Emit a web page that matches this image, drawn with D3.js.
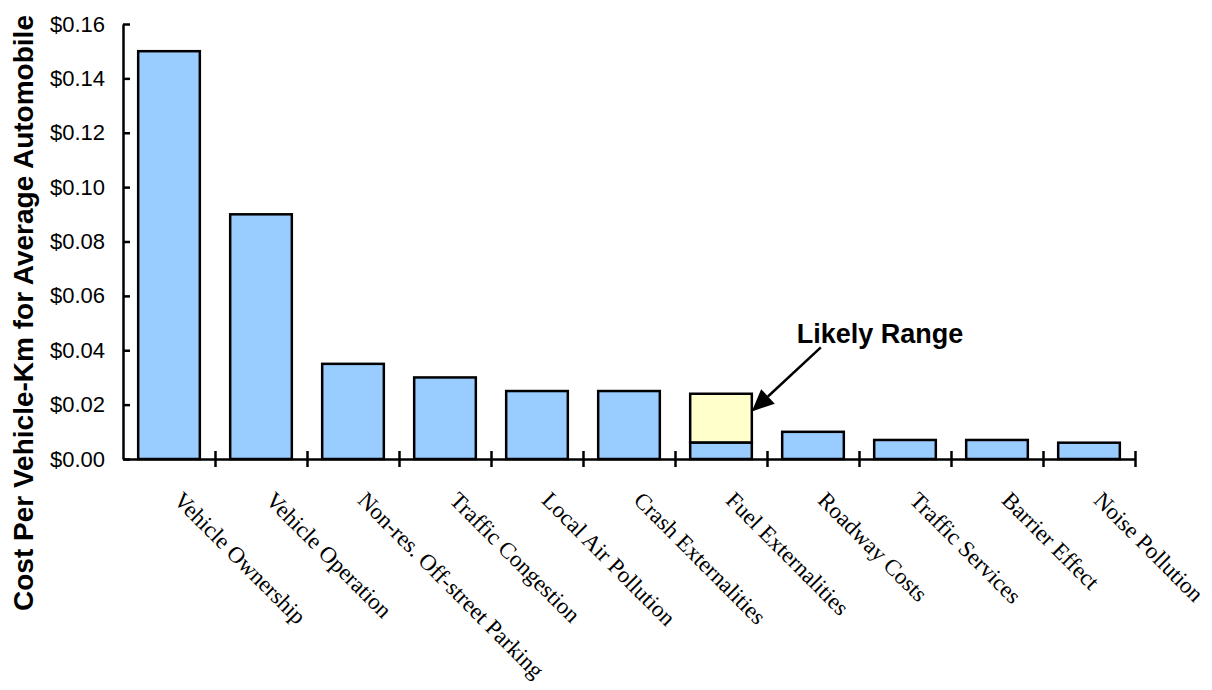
<!DOCTYPE html>
<html lang="en">
<head>
    <meta charset="UTF-8">
    <title>Cost Per Vehicle-Km for Average Automobile</title>
    <script src="https://d3js.org/d3.v7.min.js"></script>
    <style>
        body { margin: 0; background: #fff; }
        svg { display: block; }
    </style>
</head>
<body>
    <div id="chart"></div>

    <script>
        // data
        const categories = [
            "Vehicle Ownership", "Vehicle Operation", "Non-res. Off-street Parking",
            "Traffic Congestion", "Local Air Pollution", "Crash Externalities",
            "Fuel Externalities", "Roadway Costs", "Traffic Services",
            "Barrier Effect", "Noise Pollution"
        ];
        const costs = [0.15, 0.09, 0.035, 0.03, 0.025, 0.025, 0.006, 0.01, 0.007, 0.007, 0.006];
        // upper end of the "likely range" (only fuel externalities has one)
        const rangeTops = [null, null, null, null, null, null, 0.024, null, null, null, null];
        const yTicks = [0, 0.02, 0.04, 0.06, 0.08, 0.10, 0.12, 0.14, 0.16];
        const yTitle = "Cost Per Vehicle-Km for Average Automobile";
        const noteText = "Likely Range";

        const W = 1212, H = 690;
        const plot = { left: 123, right: 1135, top: 24, bottom: 459 };

        const svg = d3.select("#chart")
            .append("svg")
            .attr("width", W)
            .attr("height", H);

        const x = d3.scaleBand()
            .domain(categories)
            .range([plot.left, plot.right])
            .paddingInner(0.33)
            .paddingOuter(0.165);

        const y = d3.scaleLinear()
            .domain([0, 0.16])
            .range([plot.bottom, plot.top]);

        const data = categories.map((c, i) => ({ name: c, value: costs[i], high: rangeTops[i] }));

        // range boxes (yellow) drawn from base value up to top
        svg.selectAll(".range")
            .data(data.filter(d => d.high != null))
            .join("rect")
            .attr("x", d => x(d.name))
            .attr("width", x.bandwidth())
            .attr("y", d => y(d.high))
            .attr("height", d => y(d.value) - y(d.high))
            .attr("fill", "#FFFFCC")
            .attr("stroke", "#000")
            .attr("stroke-width", 2.5);

        svg.selectAll(".bar")
            .data(data)
            .join("rect")
            .attr("x", d => x(d.name))
            .attr("width", x.bandwidth())
            .attr("y", d => y(d.value))
            .attr("height", d => y(0) - y(d.value))
            .attr("fill", "#99CCFF")
            .attr("stroke", "#000")
            .attr("stroke-width", 2.5);

        // y axis
        const yAxis = svg.append("g")
            .attr("transform", `translate(${plot.left},0)`)
            .call(d3.axisLeft(y).tickValues(yTicks).tickFormat(d3.format("$.2f"))
                .tickSizeInner(8).tickSizeOuter(0).tickPadding(10));
        yAxis.select(".domain").attr("stroke-width", 2.5);
        yAxis.selectAll(".tick line").attr("x2", 7).attr("stroke-width", 2.5);
        yAxis.selectAll(".tick text")
            .attr("font-family", "'Liberation Sans', Arial, sans-serif")
            .attr("font-size", 22)
            .attr("fill", "#000");

        // x axis with ticks between categories
        const xEdge = d3.scaleLinear().domain([0, categories.length]).range([plot.left, plot.right]);
        const xAxis = svg.append("g")
            .attr("transform", `translate(0,${plot.bottom})`)
            .call(d3.axisBottom(xEdge).tickValues(d3.range(1, categories.length + 1))
                .tickFormat("").tickSizeInner(8).tickSizeOuter(0));
        xAxis.select(".domain").attr("stroke-width", 2.5);
        xAxis.selectAll(".tick line").attr("y1", -8).attr("stroke-width", 2.5);

        // category labels, rotated
        svg.selectAll(".cat")
            .data(categories)
            .join("text")
            .attr("transform", d => `translate(${x(d) + x.bandwidth() / 2 + 15},${plot.bottom + 31}) rotate(45)`)
            .attr("dy", "0.71em")
            .attr("font-family", "'Liberation Serif', 'Times New Roman', serif")
            .attr("font-size", 23)
            .attr("fill", "#000")
            .text(d => d);

        // y title
        svg.append("text")
            .attr("transform", `translate(33,313) rotate(-90)`)
            .attr("text-anchor", "middle")
            .attr("font-family", "'Liberation Sans', Arial, sans-serif")
            .attr("font-weight", "bold")
            .attr("font-size", 28)
            .attr("fill", "#000")
            .text(yTitle);

        // annotation for the likely range
        const rangeCat = categories[rangeTops.findIndex(v => v != null)];
        const tipX = x(rangeCat) + x.bandwidth();
        const tipY = y(0.0175);
        const startX = tipX + 69, startY = tipY - 64;

        svg.append("text")
            .attr("x", tipX + 45)
            .attr("y", tipY - 68)
            .attr("font-family", "'Liberation Sans', Arial, sans-serif")
            .attr("font-weight", "bold")
            .attr("font-size", 27)
            .attr("fill", "#000")
            .text(noteText);

        const ang = Math.atan2(tipY - startY, tipX - startX);
        const headLen = 22, headW = 10;
        const bx = tipX - headLen * Math.cos(ang), by = tipY - headLen * Math.sin(ang);
        svg.append("line")
            .attr("x1", startX).attr("y1", startY)
            .attr("x2", bx).attr("y2", by)
            .attr("stroke", "#000")
            .attr("stroke-width", 2.5);
        svg.append("path")
            .attr("d", `M${tipX},${tipY}` +
                `L${bx + headW * Math.sin(ang)},${by - headW * Math.cos(ang)}` +
                `L${bx - headW * Math.sin(ang)},${by + headW * Math.cos(ang)}Z`)
            .attr("fill", "#000");
    </script>
</body>
</html>
